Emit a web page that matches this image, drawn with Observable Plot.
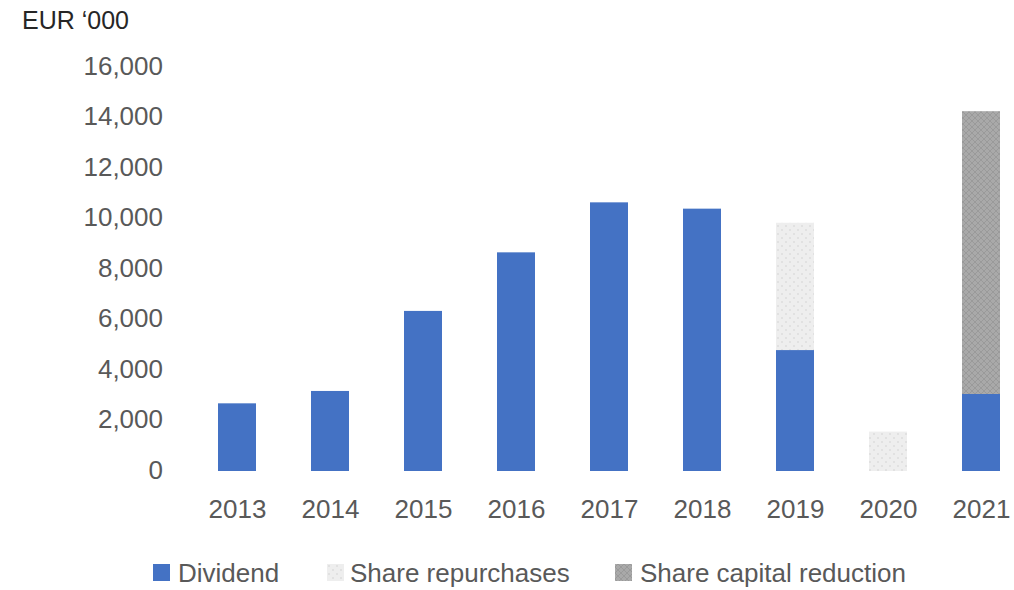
<!DOCTYPE html>
<html>
<head>
<meta charset="utf-8">
<script src="https://cdn.jsdelivr.net/npm/d3@7"></script>
<script src="https://cdn.jsdelivr.net/npm/@observablehq/plot@0.6"></script>
<style>
  html, body { margin: 0; padding: 0; background: #fff; }
  body { width: 1014px; height: 590px; overflow: hidden; font-family: "Liberation Sans", Arial, sans-serif; }
  #title { height: 40px; line-height: 40px; padding-left: 22px; font-size: 25px; color: #262626; }
  #chart { height: 505px; }
  #legend { position: relative; height: 45px; font-size: 26px; color: #595959; }
  .item { position: absolute; top: 0; height: 45px; }
  .sw { position: absolute; top: 19px; width: 17px; height: 17px; }
  .lab { position: absolute; top: 0; line-height: 56px; white-space: nowrap; }
</style>
</head>
<body>
<div id="title">EUR ‘000</div>
<div id="chart"></div>
<div id="legend"></div>
<script>
const years = ["2013", "2014", "2015", "2016", "2017", "2018", "2019", "2020", "2021"];
const dividend = [2680, 3170, 6340, 8660, 10640, 10390, 4790, 0, 3050];
const shareRepurchases = [0, 0, 0, 0, 0, 0, 5040, 1560, 0];
const shareCapitalReduction = [0, 0, 0, 0, 0, 0, 0, 0, 11200];
const seriesNames = ["Dividend", "Share repurchases", "Share capital reduction"];
const seriesFills = ["#4472C4", "url(#pat-rep)", "url(#pat-red)"];
const yTicks = [0, 2000, 4000, 6000, 8000, 10000, 12000, 14000, 16000];

const seriesValues = [dividend, shareRepurchases, shareCapitalReduction];
const rows = [];
years.forEach((year, i) => {
  seriesNames.forEach((s, j) => {
    const v = seriesValues[j][i];
    if (v > 0) rows.push({year, series: s, value: v});
  });
});

const chart = Plot.plot({
  width: 1014,
  height: 505,
  marginTop: 27,
  marginBottom: 74,
  marginLeft: 204.5,
  marginRight: 0,
  style: {fontFamily: "Liberation Sans, Arial, sans-serif", fontSize: "26px", color: "#595959", background: "#fff"},
  x: {domain: years, paddingInner: 0.593, paddingOuter: 0.128, label: null},
  y: {domain: [0, 16000], label: null},
  color: {type: "ordinal", domain: seriesNames, range: seriesFills},
  marks: [
    Plot.barY(rows, Plot.stackY({x: "year", y: "value", fill: "series", order: seriesNames})),
    Plot.axisX({tickSize: 0, tickPadding: 28, label: null, fontSize: 26}),
    Plot.axisY({ticks: yTicks, tickSize: 0, tickPadding: 42, tickFormat: d3.format(","), label: null, fontSize: 26, dy: -1})
  ]
});

const ns = "http://www.w3.org/2000/svg";
const defs = document.createElementNS(ns, "defs");
defs.innerHTML = `
  <pattern id="pat-rep" width="8" height="8" patternUnits="userSpaceOnUse">
    <rect width="8" height="8" fill="#eeeeee"/>
    <circle cx="2" cy="2" r="0.8" fill="#d2d2d2"/>
    <circle cx="6" cy="6" r="0.8" fill="#d2d2d2"/>
  </pattern>
  <pattern id="pat-red" width="6" height="6" patternUnits="userSpaceOnUse">
    <rect width="6" height="6" fill="#a9a9a9"/>
    <path d="M0 3 L3 0 L6 3 L3 6 Z" fill="none" stroke="#9a9a9a" stroke-width="1"/>
  </pattern>`;
chart.insertBefore(defs, chart.firstChild);
document.getElementById("chart").appendChild(chart);

const legendPos = [[153, 178], [327, 350], [615, 640]];
const legend = document.getElementById("legend");
seriesNames.forEach((name, i) => {
  const item = document.createElement("div");
  item.className = "item";
  item.style.left = "0px";
  item.innerHTML = `<svg class="sw" style="left:${legendPos[i][0]}px" width="17" height="17"><rect width="17" height="17" fill="${seriesFills[i]}"/></svg><span class="lab" style="left:${legendPos[i][1]}px">${name}</span>`;
  legend.appendChild(item);
});
</script>
</body>
</html>
